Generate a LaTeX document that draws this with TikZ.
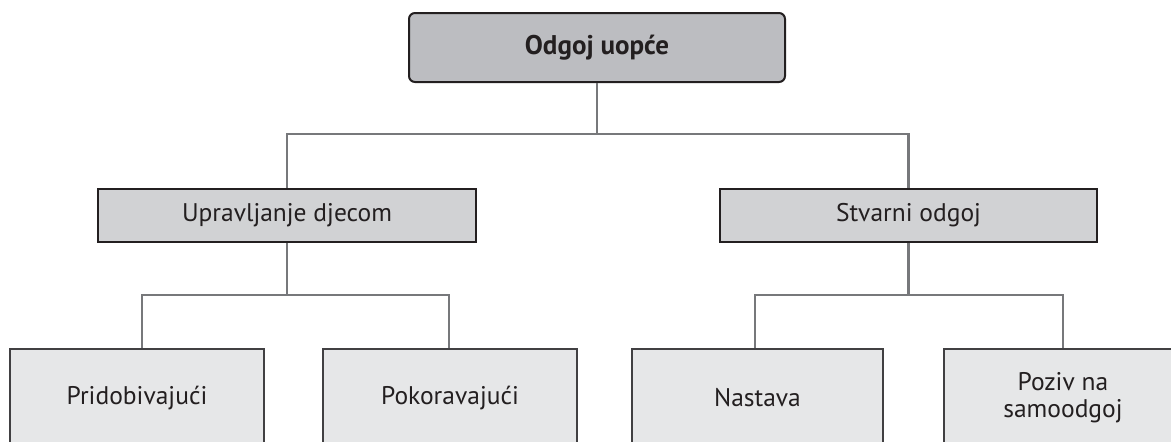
\documentclass[tikz,border=0pt]{standalone}
\usepackage{fontspec}
\setmainfont{PT Sans}
\definecolor{topfill}{HTML}{BCBDC1}
\definecolor{midfill}{HTML}{D1D2D4}
\definecolor{botfill}{HTML}{E6E7E8}
\definecolor{edge}{HTML}{231F20}
\definecolor{botedge}{HTML}{414042}
\definecolor{conn}{HTML}{77787B}
\tikzset{
  topbox/.style={draw=edge, line width=2pt, fill=topfill, rounded corners=6pt, minimum width=376pt, minimum height=69pt, inner sep=0pt, font=\fontsize{27}{32}\selectfont\bfseries, text=edge},
  midbox/.style={draw=edge, line width=1.8pt, fill=midfill, minimum width=378pt, minimum height=53pt, inner sep=0pt, font=\fontsize{25.5}{30}\selectfont, text=edge},
  botbox/.style={draw=botedge, line width=1.5pt, fill=botfill, minimum width=254pt, minimum height=98pt, inner sep=0pt, align=center, font=\fontsize{25.5}{27}\selectfont, text=edge},
  connline/.style={draw=conn, line width=2.6pt}
}
\begin{document}
\begin{tikzpicture}[x=1pt,y=-1pt]
\useasboundingbox (0,0) rectangle (1171,442);
\begin{scope}
\clip (0,0) rectangle (1171,442);
\node[topbox] (top) at (597,47.5) {Odgoj uopće};
\node[midbox] (midL) at (287,215.5) {Upravljanje djecom};
\node[midbox, minimum width=377pt] (midR) at (908.5,215.5) {Stvarni odgoj};
\node[botbox] (b1) at (137,398) {Pridobivajući};
\node[botbox] (b2) at (450,398) {Pokoravajući};
\node[botbox, minimum width=251pt] (b3) at (757.5,398) {Nastava};
\node[botbox, minimum width=238pt] (b4) at (1063,398) {Poziv na\\samoodgoj};
\coordinate (j1) at (597,134);
\coordinate (j2) at (286,295);
\coordinate (j3) at (909,295);
\draw[connline] (top.south) -- (j1);
\draw[connline] (j1) -| (midL.north);
\draw[connline] (j1) -| (midR.north);
\draw[connline] (midL.south) -- (midL.south |- j2);
\draw[connline] (j2) -| ([xshift=5pt]b1.north);
\draw[connline] (j2) -| ([xshift=-1pt]b2.north);
\draw[connline] (midR.south) -- (midR.south |- j3);
\draw[connline] (j3) -| ([xshift=-2.5pt]b3.north);
\draw[connline] (j3) -| (b4.north);
\end{scope}
\end{tikzpicture}
\end{document}
